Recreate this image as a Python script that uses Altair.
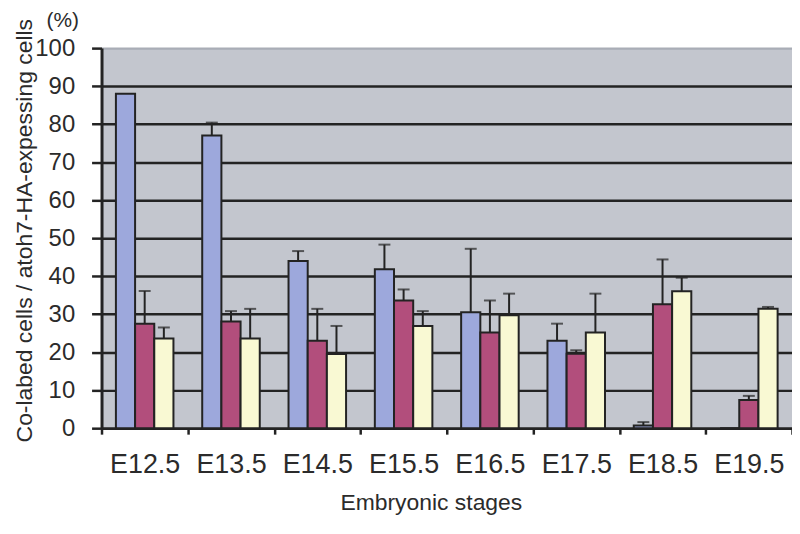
import altair as alt
import pandas as pd

stages = ["E12.5", "E13.5", "E14.5", "E15.5", "E16.5", "E17.5", "E18.5", "E19.5"]
series = ["group1", "group2", "group3"]
colors = ["#9DA8DC", "#B24E7C", "#F9F9D3"]

blue_mean = [88.0, 77.0, 44.0, 41.8, 30.5, 23.0, 0.7, 0.0]
blue_sd = [0.0, 3.4, 2.6, 6.5, 16.7, 4.5, 0.9, 0.0]
red_mean = [27.5, 28.1, 23.0, 33.6, 25.2, 19.6, 32.6, 7.4]
red_sd = [8.6, 2.7, 8.4, 2.9, 8.4, 0.9, 11.8, 1.1]
yellow_mean = [23.6, 23.6, 19.5, 26.9, 29.7, 25.2, 36.0, 31.4]
yellow_sd = [2.9, 7.8, 7.4, 3.9, 5.7, 10.2, 3.6, 0.5]

y_ticks = list(range(0, 101, 10))

rows = []
for i, st in enumerate(stages):
    for s, means, sds in zip(series, [blue_mean, red_mean, yellow_mean], [blue_sd, red_sd, yellow_sd]):
        rows.append(dict(stage=st, series=s, mean=means[i], sd=sds[i], upper=means[i] + sds[i]))
df = pd.DataFrame(rows)

DARK = "#232323"
TXT = "#2b2b2b"

x_enc = alt.X(
    "stage:N",
    sort=stages,
    scale=alt.Scale(paddingInner=0, paddingOuter=0),
    axis=alt.Axis(
        title="Embryonic stages",
        tickBand="extent",
        labelAngle=0,
        labelFontSize=27,
        labelPadding=18,
        labelColor=TXT,
        tickSize=6,
        tickWidth=2.5,
        tickColor=DARK,
        domainColor=DARK,
        domainWidth=2.5,
        titleFontSize=23,
        titleFontWeight="normal",
        titleColor=TXT,
        titleX=331,
        titleY=82,
        titleAlign="center",
        titleBaseline="alphabetic",
        grid=False,
    ),
)
xo_enc = alt.XOffset("series:N", sort=series, scale=alt.Scale(paddingInner=0, paddingOuter=0.75))

y_axis = alt.Axis(
    title="Co-labed cells / atoh7-HA-expessing cells",
    values=y_ticks,
    labelFontSize=24,
    labelPadding=17,
    labelColor=TXT,
    tickSize=10,
    tickWidth=2.5,
    tickColor=DARK,
    domainColor=DARK,
    domainWidth=3,
    grid=True,
    gridColor={"condition": {"test": "datum.value === 100", "value": "#A9ADB6"}, "value": DARK},
    gridWidth=2.5,
    titleFontSize=23,
    titleFontWeight="normal",
    titleColor=TXT,
    titleX=-77,
    titleY=183,
    titleAlign="center",
    titleBaseline="middle",
)
y_scale = alt.Scale(domain=[0, 100], nice=False)

color_enc = alt.Color("series:N", scale=alt.Scale(domain=series, range=colors), legend=None)

base = alt.Chart(df)

bars = base.mark_bar(stroke=DARK, strokeWidth=2).encode(
    x=x_enc,
    xOffset=xo_enc,
    y=alt.Y("mean:Q", scale=y_scale, axis=y_axis),
    color=color_enc,
)

rules = base.transform_filter("datum.sd > 0").mark_rule(color=DARK, strokeWidth=2).encode(
    x=x_enc,
    xOffset=xo_enc,
    y=alt.Y("mean:Q", scale=y_scale, axis=y_axis),
    y2="upper:Q",
)

caps = base.transform_filter("datum.sd > 0").mark_tick(color=DARK, thickness=2, size=12).encode(
    x=x_enc,
    xOffset=xo_enc,
    y=alt.Y("upper:Q", scale=y_scale, axis=y_axis),
)

pct = alt.Chart(pd.DataFrame({"t": ["(%)"]})).mark_text(
    fontSize=21, color=TXT, align="center", baseline="middle"
).encode(x=alt.value(-39), y=alt.value(-27), text="t:N")

chart = alt.layer(bars, rules, caps, pct).properties(
    width=694,
    height=382,
    autosize=alt.AutoSizeParams(type="none"),
    padding={"left": 94, "top": 39, "right": 0, "bottom": 100},
).configure(font="Liberation Sans").configure_view(fill="#C3C6CE", strokeWidth=0)

chart.save("out.html", embed_options={"renderer": "svg", "actions": False})
